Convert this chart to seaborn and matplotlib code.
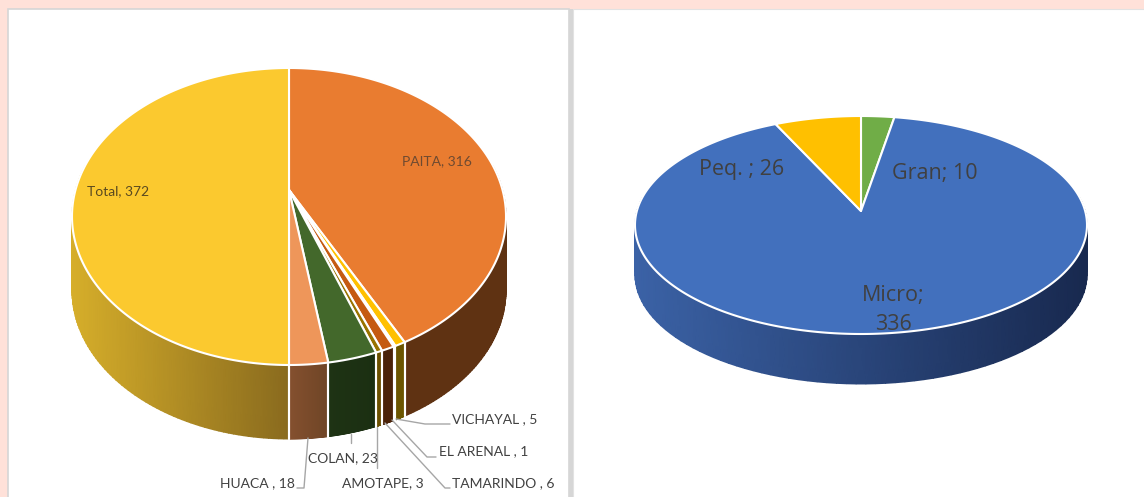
import numpy as np
import matplotlib.pyplot as plt
from matplotlib.patches import Rectangle
import seaborn as sns

left_names = ['PAITA', 'VICHAYAL', 'EL ARENAL', 'TAMARINDO', 'AMOTAPE', 'COLAN', 'HUACA', 'Total']
left_values = [316, 5, 1, 6, 3, 23, 18, 372]
left_top = ['#E97C30', '#FFC000', '#D9D9D9', '#C55A11', '#997300', '#43682B', '#EE965A', '#FBC92F']
left_side = [('#5F3212', '#5F3212'), ('#6B5500', '#6B5500'), ('#DDDDDD', '#DDDDDD'), ('#4A2208', '#4A2208'),
             ('#6B5000', '#6B5000'), ('#1E3314', '#1B2F12'), ('#85502F', '#6F4526'), ('#D6AE2A', '#8A6B1E')]

right_names = ['Gran', 'Micro', 'Peq.']
right_values = [10, 336, 26]
right_top = ['#70AD47', '#4270BD', '#FFC000']
right_side = [('#4A7A2C', '#4A7A2C'), ('#3B62A6', '#18294F'), ('#B38600', '#B38600')]

sns.set_theme(style='white')
plt.rcParams['font.family'] = ['Lato', 'DejaVu Sans']

fig = plt.figure(figsize=(11.44, 4.97), dpi=100, facecolor='#FFE1D9')
ax = fig.add_axes([0, 0, 1, 1])
ax.set_xlim(0, 1144)
ax.set_ylim(497, 0)
ax.axis('off')

# the two white panels, grey bar between them
ax.add_patch(Rectangle((8, 9), 561, 490, fc='white', ec='#D6D6D6', lw=1.2))
ax.add_patch(Rectangle((569, 9), 4, 490, fc='#D6D6D6', ec='none'))
ax.add_patch(Rectangle((573, 9), 574, 490, fc='white', ec='#E2E2E2', lw=0.8))


def get_angles(values):
    wedges, _ = ax.pie(values, startangle=90, counterclock=False, center=(-9, -9), radius=1, frame=True)
    angles = [(w.theta1, w.theta2) for w in wedges]
    for w in wedges:
        w.remove()
    ax.set_aspect('auto')
    ax.set_xlim(0, 1144)
    ax.set_ylim(497, 0)
    return angles


def pie_3d(values, top_cols, side_cols, cx, apex, top, bottom, half_w, depth):
    # tilted disc: circle mapped so the apex sits above the ellipse centre
    k = ((top + bottom) - 2 * apex) / (bottom - top)
    a = top + top * k - apex
    rx = half_w * np.sqrt(1 - k ** 2)

    def proj(deg):
        t = np.radians(deg)
        x, y = np.cos(t), np.sin(t)
        w = 1 + k * y
        return cx + rx * x / w, (a * y + apex) / w

    angles = get_angles(values)

    # side wall, only the front half is seen
    for (t1, t2), side in zip(angles, side_cols):
        lo, hi = min(t1, t2), max(t1, t2)
        for shift in (0, -360):
            s1, s2 = max(lo + shift, -180 - np.degrees(np.arcsin(k))), min(hi + shift, np.degrees(np.arcsin(k)))
            if s1 >= s2:
                continue
            ts = np.linspace(s1, s2, 90)
            xs, ys = proj(ts)
            frac = (xs - xs.min()) / max(np.ptp(xs), 1)
            cmap = sns.blend_palette(side, as_cmap=True)
            ax.pcolormesh(np.vstack([xs, xs]), np.vstack([ys, ys + depth]), np.vstack([frac, frac]),
                          cmap=cmap, vmin=0, vmax=1, shading='gouraud', zorder=3)

    # white seams
    for t1, t2 in angles:
        for t in (t1, t2):
            if np.sin(np.radians(t)) < 0:
                x, y = proj(t)
                ax.plot([x, x], [y, y + depth], color='white', lw=1.5, zorder=4)

    for (t1, t2), col in zip(angles, top_cols):
        ts = np.linspace(t1, t2, max(int(abs(t2 - t1)) * 2, 4))
        xs, ys = proj(ts)
        ax.fill(np.r_[cx, xs], np.r_[apex, ys], fc=col, ec='white', lw=1.5, joinstyle='round', zorder=5)


pie_3d(left_values, left_top, left_side, 289, 190, 68, 365, 217, 74)
pie_3d(right_values, right_top, right_side, 861, 211, 116, 334, 226, 50)

# leader lines of the left pie
leaders = [
    ([396, 425, 450], [419, 424, 424]),
    ([392, 427, 436], [420, 457, 457]),
    ([385, 445, 450], [423, 488, 488]),
    ([377, 377], [427, 468]),
    ([351, 351], [434, 443]),
    ([308, 304, 297], [438, 488, 488]),
]
for xs, ys in leaders:
    ax.plot(xs, ys, color='#A6A6A6', lw=1, zorder=6)

txt = '#404040'
small = 10
labels = [
    (f'{left_names[0]}, {left_values[0]}', 437, 161, 'center', '#6E4A30'),
    (f'{left_names[7]}, {left_values[7]}', 118, 191, 'center', '#5A4A20'),
    (f'{left_names[1]} , {left_values[1]}', 452, 419, 'left', txt),
    (f'{left_names[2]} , {left_values[2]}', 439, 451, 'left', txt),
    (f'{left_names[3]} , {left_values[3]}', 452, 483, 'left', txt),
    (f'{left_names[4]}, {left_values[4]}', 383, 483, 'center', txt),
    (f'{left_names[5]}, {left_values[5]}', 343, 458, 'center', txt),
    (f'{left_names[6]} , {left_values[6]}', 295, 483, 'right', txt),
]
for s, x, y, ha, c in labels:
    ax.text(x, y, s, fontsize=small, color=c, ha=ha, va='center', zorder=7)

big = dict(fontsize=15.5, color=txt, ha='center', va='center', zorder=7, family=['Open Sans', 'DejaVu Sans'])
ax.text(742, 170, f'{right_names[2]} ; {right_values[2]}', **big)
ax.text(935, 173, f'{right_names[0]}; {right_values[0]}', **big)
ax.text(893, 296, f'{right_names[1]};', **big)
ax.text(893, 325, f'{right_values[1]}', **big)

fig.savefig('out.png', dpi=100, facecolor=fig.get_facecolor())
